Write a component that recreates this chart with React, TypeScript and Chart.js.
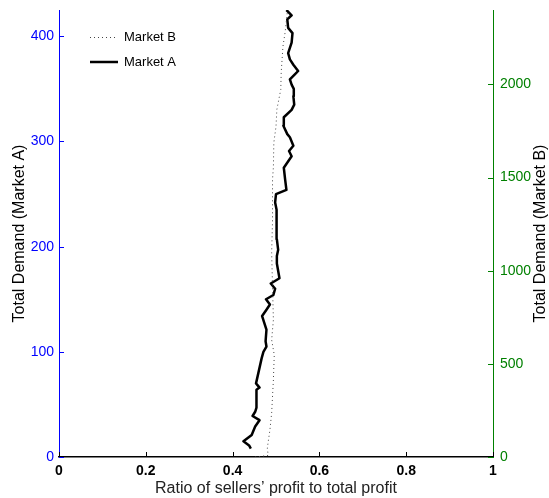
import React, { useEffect, useRef } from "react";
import { Chart, registerables } from "chart.js";

Chart.register(...registerables);

// Market A (left axis): total demand and ratio of sellers' profit
const marketADemand = [8, 11, 15, 21, 29, 35, 39, 43, 47, 64, 66, 70, 94, 100, 105, 110, 121, 134, 140, 145, 150, 154, 160, 165, 170, 184, 191, 197, 207, 216, 226, 235, 242, 250, 254, 264, 275, 286, 291, 296, 304, 307, 315, 323, 330, 335, 343, 350, 354, 359, 364, 367, 373, 378, 384, 394, 403, 408, 416, 420, 425];
const marketARatio = [0.442, 0.438, 0.425, 0.444, 0.452, 0.462, 0.446, 0.452, 0.455, 0.455, 0.462, 0.454, 0.467, 0.471, 0.478, 0.476, 0.478, 0.468, 0.478, 0.486, 0.477, 0.494, 0.498, 0.488, 0.508, 0.502, 0.502, 0.505, 0.502, 0.502, 0.5, 0.502, 0.498, 0.5, 0.524, 0.521, 0.518, 0.536, 0.53, 0.54, 0.532, 0.526, 0.517, 0.518, 0.536, 0.542, 0.54, 0.541, 0.536, 0.532, 0.544, 0.551, 0.54, 0.532, 0.528, 0.536, 0.538, 0.528, 0.526, 0.536, 0.524];

// Market B (right axis)
const marketBDemand = [0, 8, 48, 145, 237, 414, 548, 629, 737, 914, 1097, 1274, 1492, 1556, 1688, 1774, 1866, 1973, 2065, 2204, 2280, 2387];
const marketBRatio = [0.452, 0.482, 0.48, 0.486, 0.49, 0.494, 0.496, 0.49, 0.494, 0.492, 0.49, 0.492, 0.492, 0.494, 0.495, 0.5, 0.502, 0.511, 0.512, 0.516, 0.521, 0.526];

const xTickValues = [0, 0.2, 0.4, 0.6, 0.8, 1];
const leftTickValues = [0, 100, 200, 300, 400];
const rightTickValues = [0, 500, 1000, 1500, 2000];

const seriesLabels = ["Market B", "Market A"];
const rightTitle = "Total Demand (Market B)";

const FONT = "'Liberation Sans', Arial, Helvetica, sans-serif";
const BLUE = "#0000ff";
const GREEN = "#008000";

const inwardTicks = {
  id: "inwardTicks",
  afterDatasetsDraw(chart: any) {
    const ctx = chart.ctx;
    const { x, y, yB } = chart.scales;
    const area = chart.chartArea;
    ctx.save();
    ctx.lineWidth = 1;
    ctx.strokeStyle = "#000";
    xTickValues.forEach((v) => {
      const px = Math.round(x.getPixelForValue(v)) + 0.5;
      ctx.beginPath();
      ctx.moveTo(px, area.bottom);
      ctx.lineTo(px, area.bottom - 5);
      ctx.stroke();
    });
    ctx.strokeStyle = BLUE;
    leftTickValues.forEach((v) => {
      const py = Math.round(y.getPixelForValue(v)) + 0.5;
      ctx.beginPath();
      ctx.moveTo(area.left, py);
      ctx.lineTo(area.left + 5, py);
      ctx.stroke();
    });
    ctx.strokeStyle = GREEN;
    rightTickValues.forEach((v) => {
      const py = Math.round(yB.getPixelForValue(v)) + 0.5;
      ctx.beginPath();
      ctx.moveTo(area.right, py);
      ctx.lineTo(area.right - 5, py);
      ctx.stroke();
    });
    // right axis title, reading bottom-to-top
    ctx.save();
    ctx.translate(chart.width - 8, (area.top + area.bottom) / 2);
    ctx.rotate(-Math.PI / 2);
    ctx.font = `16px ${FONT}`;
    ctx.fillStyle = "#000";
    ctx.textAlign = "center";
    ctx.textBaseline = "middle";
    ctx.fillText(rightTitle, 0, 0);
    ctx.restore();
    ctx.restore();
  },
};

const insideLegend = {
  id: "insideLegend",
  afterDraw(chart: any) {
    const ctx = chart.ctx;
    const area = chart.chartArea;
    const x0 = area.left + 31;
    const x1 = area.left + 59;
    const tx = area.left + 65;
    const rows = [area.top + 27, area.top + 52];
    ctx.save();
    ctx.font = `13px ${FONT}`;
    ctx.textBaseline = "middle";
    ctx.fillStyle = "#000";
    // Market B dotted
    ctx.setLineDash([1, 3]);
    ctx.lineWidth = 1;
    ctx.strokeStyle = "#444";
    ctx.beginPath();
    ctx.moveTo(x0, rows[0] + 0.5);
    ctx.lineTo(x1, rows[0] + 0.5);
    ctx.stroke();
    ctx.fillText(seriesLabels[0], tx, rows[0]);
    // Market A solid
    ctx.setLineDash([]);
    ctx.lineWidth = 2.5;
    ctx.strokeStyle = "#000";
    ctx.beginPath();
    ctx.moveTo(x0, rows[1]);
    ctx.lineTo(x1, rows[1]);
    ctx.stroke();
    ctx.fillText(seriesLabels[1], tx, rows[1]);
    ctx.restore();
  },
};

export default function App() {
  const canvasRef = useRef<HTMLCanvasElement | null>(null);

  useEffect(() => {
    if (!canvasRef.current) return;
    const chart = new Chart(canvasRef.current, {
      type: "line",
      data: {
        datasets: [
          {
            label: seriesLabels[0],
            data: marketBDemand.map((d, i) => ({ x: marketBRatio[i], y: d })),
            yAxisID: "yB",
            borderColor: "#444",
            borderWidth: 1,
            borderDash: [1, 3],
            pointRadius: 0,
            tension: 0,
            fill: false,
          },
          {
            label: seriesLabels[1],
            data: marketADemand.map((d, i) => ({ x: marketARatio[i], y: d })),
            yAxisID: "y",
            borderColor: "#000",
            borderWidth: 2.5,
            pointRadius: 0,
            tension: 0,
            fill: false,
            borderJoinStyle: "round",
          },
        ],
      },
      options: {
        animation: false,
        responsive: true,
        maintainAspectRatio: false,
        layout: { padding: { top: 10, left: 0, right: 0, bottom: 0 } },
        plugins: {
          legend: { display: false },
          tooltip: { enabled: false },
        },
        scales: {
          x: {
            type: "linear",
            position: "bottom",
            min: 0,
            max: 1,
            afterBuildTicks: (s: any) => {
              s.ticks = xTickValues.map((v) => ({ value: v }));
            },
            afterFit: (s: any) => {
              s.height = 41;
              s.paddingLeft = 0;
              s.paddingRight = 0;
            },
            grid: { display: false, drawTicks: false },
            border: { display: true, color: "#000", width: 1.5 },
            ticks: {
              color: "#000",
              padding: 6,
              font: { family: FONT, size: 14, weight: "bold" },
              callback: (v: any) => String(Math.round(Number(v) * 10) / 10),
              maxRotation: 0,
            },
            title: {
              display: true,
              text: "Ratio of sellers\u2019 profit to total profit",
              color: "#222",
              font: { family: FONT, size: 16 },
              padding: { top: 0, bottom: 0 },
            },
          },
          y: {
            type: "linear",
            position: "left",
            min: 0,
            max: 425,
            afterBuildTicks: (s: any) => {
              s.ticks = leftTickValues.map((v) => ({ value: v }));
            },
            afterFit: (s: any) => {
              s.width = 59;
              s.paddingTop = 0;
              s.paddingBottom = 0;
            },
            grid: { display: false, drawTicks: false },
            border: { display: true, color: BLUE, width: 1 },
            ticks: {
              color: BLUE,
              padding: 5,
              font: { family: FONT, size: 14 },
              callback: (v: any) => String(v),
            },
            title: {
              display: true,
              text: "Total Demand (Market A)",
              color: "#000",
              font: { family: FONT, size: 16 },
              padding: { top: 10, bottom: 0 },
            },
          },
          yB: {
            type: "linear",
            position: "right",
            min: 0,
            max: 2400,
            afterBuildTicks: (s: any) => {
              s.ticks = rightTickValues.map((v) => ({ value: v }));
            },
            afterFit: (s: any) => {
              s.width = 56;
              s.paddingTop = 0;
              s.paddingBottom = 0;
            },
            grid: { display: false, drawTicks: false },
            border: { display: true, color: GREEN, width: 1 },
            ticks: {
              color: GREEN,
              padding: 7,
              font: { family: FONT, size: 14 },
              callback: (v: any) => String(v),
            },
          },
        },
      },
      plugins: [inwardTicks, insideLegend],
    });
    return () => chart.destroy();
  }, []);

  return (
    <div style={{ position: "fixed", left: 0, top: 0, width: 549, height: 498, background: "#fff" }}>
      <canvas ref={canvasRef} />
    </div>
  );
}
